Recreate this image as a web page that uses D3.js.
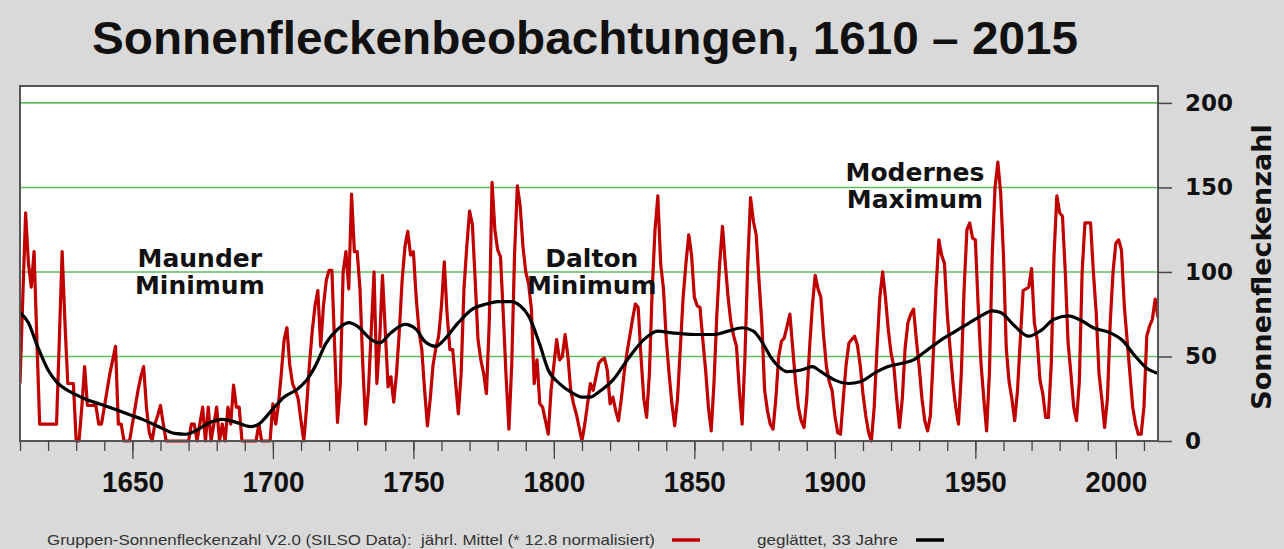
<!DOCTYPE html>
<html><head><meta charset="utf-8">
<script src="https://cdn.jsdelivr.net/npm/d3@7"></script>
<style>
html,body{margin:0;padding:0;background:#d9d9d9;}
svg{display:block;}
</style>
</head><body>
<svg id="chart" width="1284" height="549"></svg>
<script>
// ---------- DATA ----------
const title = "Sonnenfleckenbeobachtungen, 1610 \u2013 2015";
const yAxisTitle = "Sonnenfleckenzahl";
const startYear = 1610;
const endYear = 2015;
// yearly group sunspot number (* 12.8), 1610 .. 2015
const groupSN = [
  34, 85,135,105, 91,112, 60, 10, 10, 10,   // 1610
  10, 10, 10, 10, 60,112, 70, 34, 34, 34,   // 1620
   0,  0, 20, 44, 21, 21, 21, 21, 10, 10,   // 1630
  20, 30, 40, 48, 56, 10, 10,  0,  0,  0,   // 1640
  10, 20, 30, 38, 44, 20,  5,  0, 10, 15,   // 1650
  21, 10,  0,  0,  0,  0,  0,  0,  0,  0,   // 1660
   0, 10, 10,  0, 10, 20,  0, 20,  0, 10,   // 1670
  20,  0, 10,  0, 20, 10, 33, 20, 20,  0,   // 1680
   0,  0,  0,  0,  0, 10,  0,  0,  0,  0,   // 1690
  22, 10, 22, 40, 60, 67, 45, 34, 30, 25,   // 1700
  12,  0, 20, 45, 65, 80, 89, 56, 80, 95,   // 1710
 101,101, 55, 11, 34,100,112, 90,146,112,   // 1720
 112, 90, 45, 10, 30, 65,100, 34, 60, 98,   // 1730
  65, 32, 38, 23, 40, 65, 95,115,124,110,   // 1740
 112, 85, 65, 54, 30,  9, 25, 45, 55, 62,   // 1750
  80,106, 75, 54, 54, 35, 16, 40, 90,115,   // 1760
 136,128, 95, 60, 48, 40, 28, 70,153,125,   // 1770
 113,109, 75, 38,  7, 45,110,151,139,115,   // 1780
 100, 93, 78, 34, 48, 22, 20, 12,  4, 30,   // 1790
  45, 60, 48, 50, 63, 50, 30, 22, 16,  8,   // 1800
   0, 10, 22, 34, 30, 38, 46, 48, 49, 42,   // 1810
  22, 26, 18, 12, 25, 40, 52, 62, 72, 81,   // 1820
  79, 50, 25, 14, 40, 90,125,145,105, 90,   // 1830
  60, 40, 22,  9, 25, 55, 85,105,122,110,   // 1840
  85, 80, 79, 60, 42, 20,  6, 35, 75,105,   // 1850
 127,105, 85, 70, 62, 56, 30, 10, 50,105,   // 1860
 144,130,122, 95, 70, 30, 18, 10,  7, 25,   // 1870
  50, 59, 61, 68, 75, 55, 35, 20, 12,  8,   // 1880
  25, 55, 80, 98, 90, 85, 62, 44, 35, 30,   // 1890
  15,  5,  4, 25, 45, 58, 60, 62, 57, 45,   // 1900
  28, 15,  5,  0, 20, 55, 85,100, 85, 66,   // 1910
  52, 44, 25,  8, 25, 55, 70, 75, 78, 60,   // 1920
  44, 25, 12,  6, 15, 50, 90,119,110,105,   // 1930
  75, 55, 35, 20, 10, 40, 90,125,129,120,   // 1940
 119, 80, 46, 25,  6, 40,110,150,165,147,   // 1950
 110, 55, 35, 25, 12, 30, 60, 89, 90, 91,   // 1960
 102, 70, 60, 36, 28, 14, 14, 45,110,145,   // 1970
 135,133,100, 58, 40, 20, 12, 35,100,129,   // 1980
 129,129,100, 76, 40, 25,  8, 25, 70,100,   // 1990
 117,119,113, 80, 60, 40, 20, 10,  4,  4,   // 2000
  20, 62, 68, 72, 84, 73                    // 2010
];
// 33-year smoothed curve
const smoothYears  = [1610,1613,1616,1620,1623,1628,1633,1640,1645,1650,1654,1660,1665,1669,1673,1677,1682,1687,1692,1695,1700,1704,1709,1712,1715,1719,1723,1727,1730,1735,1738,1742,1747,1751,1754,1758,1761,1766,1771,1776,1780,1785,1788,1791,1795,1798,1802,1806,1810,1813,1816,1821,1827,1832,1837,1842,1850,1857,1862,1867,1871,1875,1877,1880,1883,1888,1892,1895,1900,1905,1909,1914,1919,1924,1928,1933,1938,1943,1947,1952,1956,1959,1964,1969,1973,1978,1983,1988,1992,1998,2002,2007,2011,2015];
const smoothValues = [  76,  70,  57,  42,  35,  29,  25,  21,  18,  15,12.5,   8, 4.5,   4, 6.5,10.5,12.8,  11, 8.5,  10,  19,  26,  31,  36,  44,  58,  66,  70,  68,  60,  58,  64,  69,  66,  59,  56,  60,  70,  78,  81,82.5,82.5,  80,  74,  57,  42,  34,  29,  26,  26,  29,  36,  50,  60,  65,  64,  63,  63,  65,  67,  65,  56,  50,  44,  41,  42,  44,  41,  36,  34,  35,  40,  44,  46,  48,  54,  60,  65,  69,  74,  77,  76,  68,  62,  65,  72,  74,  71,  67,  64,  60,  50,  43,  40];
const yTicks = [0, 50, 100, 150, 200];
const gridValues = [50, 100, 150, 200];
const xMajorTicks = [1650, 1700, 1750, 1800, 1850, 1900, 1950, 2000];
const xMinorTicks = d3.range(1610, 2011, 10);
const annotations = [
  {lines: ["Maunder", "Minimum"], year: 1674, value: 103},
  {lines: ["Dalton", "Minimum"], year: 1813.5, value: 103},
  {lines: ["Modernes", "Maximum"], year: 1928.5, value: 154}
];
const legendItems = [
  {label: "Gruppen-Sonnenfleckenzahl V2.0 (SILSO Data):  j\u00e4hrl. Mittel (* 12.8 normalisiert)", color: "#c00000"},
  {label: "gegl\u00e4ttet, 33 Jahre", color: "#000000"}
];

// ---------- CHART ----------
const svg = d3.select("#chart");
const W = 1284, H = 549;
const plot = {left: 20, right: 1158, top: 86, bottom: 441};

svg.append("rect").attr("width", W).attr("height", H).attr("fill", "#d9d9d9");

const x = d3.scaleLinear().domain([startYear, endYear]).range([plot.left, plot.right]);
const y = d3.scaleLinear().domain([0, 210]).range([plot.bottom, plot.top]);

// plot background
svg.append("rect")
  .attr("x", plot.left).attr("y", plot.top)
  .attr("width", plot.right - plot.left).attr("height", plot.bottom - plot.top)
  .attr("fill", "#ffffff");

// grid
svg.append("g").selectAll("line").data(gridValues).join("line")
  .attr("x1", plot.left).attr("x2", plot.right)
  .attr("y1", d => y(d)).attr("y2", d => y(d))
  .attr("stroke", "#5fbf5f").attr("stroke-width", 1.6);

// title
svg.append("text")
  .attr("x", 585).attr("y", 54)
  .attr("text-anchor", "middle")
  .attr("font-family", "Liberation Sans, Arial, sans-serif")
  .attr("font-weight", "bold").attr("font-size", 47)
  .attr("fill", "#111")
  .attr("textLength", 986).attr("lengthAdjust", "spacingAndGlyphs")
  .text(title);

// data lines
svg.append("clipPath").attr("id", "clip").append("rect")
  .attr("x", plot.left).attr("y", plot.top - 5)
  .attr("width", plot.right - plot.left).attr("height", plot.bottom - plot.top + 10);

const redLine = d3.line()
  .x((d, i) => x(startYear + i))
  .y(d => y(d));
svg.append("path")
  .datum(groupSN)
  .attr("clip-path", "url(#clip)")
  .attr("d", redLine)
  .attr("fill", "none")
  .attr("stroke", "#c00000")
  .attr("stroke-width", 3.2)
  .attr("stroke-linejoin", "round");

const smoothLine = d3.line()
  .x(d => x(d[0]))
  .y(d => y(d[1]))
  .curve(d3.curveMonotoneX);
svg.append("path")
  .datum(smoothYears.map((yr, i) => [yr, smoothValues[i]]))
  .attr("d", smoothLine)
  .attr("fill", "none")
  .attr("stroke", "#000")
  .attr("stroke-width", 3.2)
  .attr("stroke-linejoin", "round");

// annotations
annotations.forEach(a => {
  const t = svg.append("text")
    .attr("text-anchor", "middle")
    .attr("font-family", "DejaVu Sans, sans-serif")
    .attr("font-weight", "bold").attr("font-size", 25)
    .attr("fill", "#111");
  a.lines.forEach((ln, i) => {
    t.append("tspan").attr("x", x(a.year)).attr("y", y(a.value) + i * 27).text(ln);
  });
});

// border
svg.append("rect")
  .attr("x", plot.left).attr("y", plot.top)
  .attr("width", plot.right - plot.left).attr("height", plot.bottom - plot.top)
  .attr("fill", "none").attr("stroke", "#555").attr("stroke-width", 2);

// x axis: minor ticks
const xMinorAxis = d3.axisBottom(x).tickValues(xMinorTicks).tickSize(10).tickFormat("");
const gxm = svg.append("g").attr("transform", `translate(0,${plot.bottom})`).call(xMinorAxis);
gxm.select(".domain").remove();
gxm.selectAll("line").attr("stroke", "#444").attr("stroke-width", 1.3);

// x axis: major ticks with labels
const xMajorAxis = d3.axisBottom(x).tickValues(xMajorTicks).tickSize(18).tickPadding(12).tickFormat(d3.format("d"));
const gx = svg.append("g").attr("transform", `translate(0,${plot.bottom})`).call(xMajorAxis);
gx.select(".domain").remove();
gx.selectAll("line").attr("stroke", "#444").attr("stroke-width", 1.3);
gx.selectAll("text")
  .attr("font-family", "Liberation Sans, Arial, sans-serif")
  .attr("font-weight", "bold").attr("font-size", 30)
  .attr("fill", "#111")
  .attr("textLength", 62).attr("lengthAdjust", "spacingAndGlyphs");

// y axis on the right
const yAxis = d3.axisRight(y).tickValues(yTicks).tickSize(14).tickPadding(13).tickFormat(d3.format("d"));
const gy = svg.append("g").attr("transform", `translate(${plot.right},0)`).call(yAxis);
gy.select(".domain").remove();
gy.selectAll("line").attr("stroke", "#444").attr("stroke-width", 1.5);
gy.selectAll("text")
  .attr("font-family", "DejaVu Sans, sans-serif")
  .attr("font-weight", "bold").attr("font-size", 23)
  .attr("fill", "#111");

// y axis title
svg.append("text")
  .attr("transform", "translate(1271,267) rotate(-90)")
  .attr("text-anchor", "middle")
  .attr("font-family", "DejaVu Sans, sans-serif")
  .attr("font-weight", "bold").attr("font-size", 27)
  .attr("fill", "#111")
  .text(yAxisTitle);

// legend
const legendLayout = [
  {tx: 47, tw: 608, lx1: 672, lx2: 700},
  {tx: 757, tw: 141, lx1: 916, lx2: 944}
];
legendItems.forEach((it, i) => {
  const L = legendLayout[i];
  svg.append("text")
    .attr("x", L.tx).attr("y", 545)
    .attr("font-family", "Liberation Sans, Arial, sans-serif")
    .attr("font-size", 15)
    .attr("fill", "#333")
    .attr("xml:space", "preserve")
    .style("white-space", "pre")
    .attr("textLength", L.tw).attr("lengthAdjust", "spacingAndGlyphs")
    .text(it.label);
  svg.append("line")
    .attr("x1", L.lx1).attr("x2", L.lx2).attr("y1", 540).attr("y2", 540)
    .attr("stroke", it.color).attr("stroke-width", 3.5);
});
</script>
</body></html>
